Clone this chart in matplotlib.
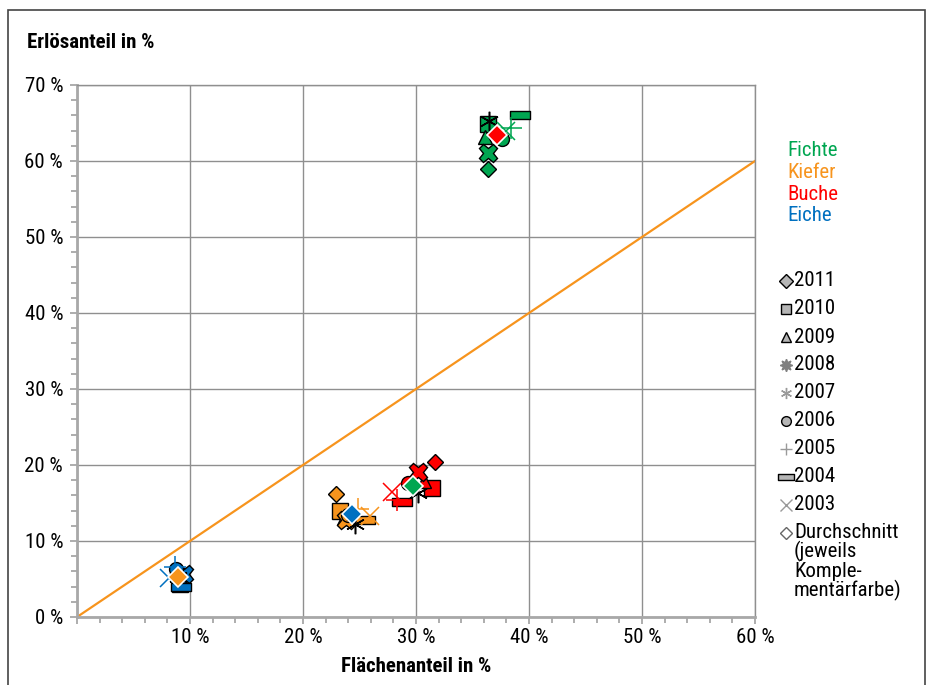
import matplotlib
matplotlib.use("Agg")
import matplotlib.pyplot as plt
from matplotlib import font_manager
from matplotlib.lines import Line2D
from matplotlib.path import Path
from matplotlib.patches import Rectangle
from matplotlib.ticker import MultipleLocator

# pick a narrow sans family if one is installed
available = {f.name for f in font_manager.fontManager.ttflist}
for fam in ["Liberation Sans Narrow", "Roboto Condensed", "Open Sans Condensed", "Noto Sans", "DejaVu Sans"]:
    if fam in available:
        FONT = fam
        break
plt.rcParams["font.family"] = [FONT, "DejaVu Sans"]

# ---- data: area share (x, %) and revenue share (y, %) per species and year ----
years = ["2011", "2010", "2009", "2008", "2007", "2006", "2005", "2004", "2003"]
species = ["Fichte", "Kiefer", "Buche", "Eiche"]
species_colors = ["#00a651", "#f7941d", "#ff0000", "#0070c0"]
complement_colors = ["#ff0000", "#0070c0", "#00a651", "#f7941d"]

fichte_x = [36.4, 36.4, 36.1, 36.4, 36.5, 37.6, 38.4, 39.2, 38.0]
fichte_y = [59.0, 64.9, 63.2, 61.1, 65.2, 62.9, 64.4, 66.0, 64.0]
kiefer_x = [22.9, 23.3, 23.6, 23.8, 24.6, 24.0, 24.9, 25.5, 25.9]
kiefer_y = [16.2, 14.0, 13.0, 12.8, 12.3, 13.4, 14.2, 12.7, 13.3]
buche_x = [31.7, 31.4, 30.7, 30.2, 30.2, 29.3, 28.3, 28.8, 27.9]
buche_y = [20.4, 17.0, 17.9, 19.1, 16.3, 17.6, 15.4, 15.1, 16.5]
eiche_x = [9.0, 9.1, 9.0, 9.5, 8.9, 8.8, 8.7, 9.2, 8.1]
eiche_y = [6.0, 4.3, 4.8, 5.6, 5.2, 6.3, 6.6, 3.9, 5.1]

avg_x = [37.2, 24.3, 29.7, 8.9]
avg_y = [63.4, 13.6, 17.2, 5.2]

species_x = [fichte_x, kiefer_x, buche_x, eiche_x]
species_y = [fichte_y, kiefer_y, buche_y, eiche_y]

x_ticks = [0, 10, 20, 30, 40, 50, 60]
x_labels = ["", "10 %", "20 %", "30 %", "40 %", "50 %", "60 %"]
y_ticks = [0, 10, 20, 30, 40, 50, 60, 70]
y_labels = ["0 %", "10 %", "20 %", "30 %", "40 %", "50 %", "60 %", "70 %"]

# ---- marker styles per year ----
bar_marker = Path([(-1, -0.38), (1, -0.38), (1, 0.38), (-1, 0.38), (-1, -0.38)],
                  [Path.MOVETO, Path.LINETO, Path.LINETO, Path.LINETO, Path.CLOSEPOLY])
year_style = {
    "2011": dict(marker="D", ms=8, filled=True),
    "2010": dict(marker="s", ms=11, filled=True),
    "2009": dict(marker="^", ms=10, filled=True),
    "2008": dict(marker="X", ms=13, filled=True),
    "2007": dict(marker=(6, 2, 0), ms=14, filled=False, line="black"),
    "2006": dict(marker="o", ms=10, filled=True),
    "2005": dict(marker="+", ms=16, filled=False),
    "2004": dict(marker=bar_marker, ms=14, filled=True),
    "2003": dict(marker="x", ms=13, filled=False),
}

fig = plt.figure(figsize=(9.28, 6.85), dpi=100)
ax = fig.add_axes([77 / 928, 1 - 617 / 685, (755 - 77) / 928, (617 - 85) / 685])

grid_c = "#8f8f8f"
ax.set_xlim(0, 60)
ax.set_ylim(0, 70)
ax.set_xticks(x_ticks)
ax.set_xticklabels(x_labels)
ax.set_yticks(y_ticks)
ax.set_yticklabels(y_labels)
ax.xaxis.set_minor_locator(MultipleLocator(2))
ax.yaxis.set_minor_locator(MultipleLocator(2))
ax.grid(True, which="major", color=grid_c, lw=1)
ax.tick_params(which="major", direction="out", length=5, color="#a0a0a0", width=1.2,
               labelsize=15)
ax.tick_params(axis="x", which="major", pad=3)
ax.tick_params(axis="y", which="major", pad=5)
ax.tick_params(which="minor", direction="out", length=4, color="#a0a0a0", width=1.2)
for side in ["top", "right"]:
    ax.spines[side].set_color(grid_c)
    ax.spines[side].set_linewidth(1)
for side in ["left", "bottom"]:
    ax.spines[side].set_color("#a8a8a8")
    ax.spines[side].set_linewidth(2)
ax.set_axisbelow(True)

# diagonal: revenue share equals area share
ax.plot([0, 60], [0, 60], color="#f7941d", lw=1.6, zorder=2)

for sx, sy, col in zip(species_x, species_y, species_colors):
    for i, yr in enumerate(years):
        st = year_style[yr]
        if st["filled"]:
            ax.plot(sx[i], sy[i], linestyle="none", marker=st["marker"], ms=st["ms"],
                    mfc=col, mec="black", mew=1.0, zorder=3)
        else:
            ax.plot(sx[i], sy[i], linestyle="none", marker=st["marker"], ms=st["ms"],
                    mec=st.get("line", col), mew=1.1, zorder=4)

for x, y, col in zip(avg_x, avg_y, complement_colors):
    ax.plot(x, y, linestyle="none", marker="D", ms=10, mfc=col, mec="white", mew=1.2, zorder=5)

fig.text(416 / 928, 1 - 666 / 685, "Flächenanteil in %", fontsize=15, fontweight="bold",
         va="center", ha="center")
fig.text(27 / 928, 1 - 42 / 685, "Erlösanteil in %", fontsize=15, fontweight="bold",
         va="center", ha="left")

# species colour key
for k, (name, col) in enumerate(zip(species, species_colors)):
    fig.text(787 / 928, 1 - (151 + 21.5 * k) / 685, name, color=col, fontsize=15,
             va="center", ha="left")

# year marker key
legend_gray = "#9a9a9a"
for k, yr in enumerate(years):
    st = year_style[yr]
    ypos = 1 - (281 + 28 * k) / 685
    if st["filled"]:
        if yr == "2008":
            h = Line2D([786 / 928], [ypos], transform=fig.transFigure, linestyle="none",
                       marker=(8, 1, 0), ms=9, mfc="#808080", mec="#808080")
        else:
            h = Line2D([786 / 928], [ypos], transform=fig.transFigure, linestyle="none",
                       marker=st["marker"], ms=7 if yr != "2004" else 11,
                       mfc="#b5b5b5", mec="black", mew=1.0)
    else:
        h = Line2D([786 / 928], [ypos], transform=fig.transFigure, linestyle="none",
                   marker=st["marker"], ms=8, mec=legend_gray, mew=1.0)
    fig.add_artist(h)
    fig.text(794 / 928, ypos, yr, fontsize=15, va="center", ha="left")

ypos = 1 - (281 + 28 * len(years)) / 685
fig.add_artist(Line2D([786 / 928], [ypos], transform=fig.transFigure, linestyle="none",
                      marker="D", ms=6, mfc="white", mec="#666666", mew=1.0))
fig.text(794 / 928, ypos + 10 / 685, "Durchschnitt\n(jeweils\nKomple-\nmentärfarbe)",
         fontsize=15, va="top", ha="left", linespacing=0.95)

# outer frame
fig.add_artist(Rectangle((8 / 928, -0.05), (925 - 8) / 928, 1.05 - 10 / 685,
                         transform=fig.transFigure, fill=False, ec="#444444", lw=1.2))

fig.savefig("out.png", dpi=100)
